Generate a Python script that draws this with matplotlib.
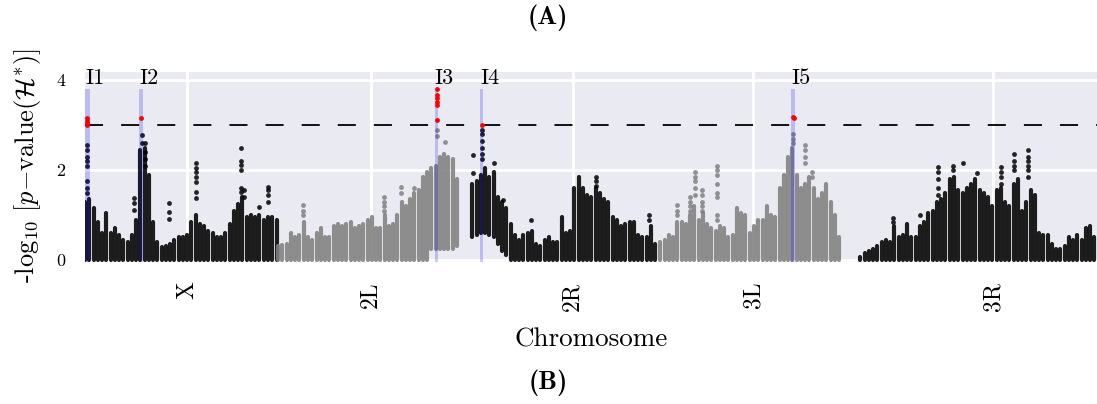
import matplotlib
matplotlib.use('Agg')
import matplotlib.pyplot as plt
import numpy as np

plt.rcParams['font.family'] = 'cmr10'
plt.rcParams['mathtext.fontset'] = 'cm'
plt.rcParams['axes.unicode_minus'] = False

# ---------------- data (positions in Mb, values = -log10 p) ----------------
chrom_names = ['X', '2L', '2R', '3L', '3R']
chrom_tick_pos = [12.0, 33.6, 57.3, 78.5, 106.7]
chrom_colors = ['#000000', '#808080', '#000000', '#808080', '#000000']
bin_width = 0.5
chrom_bin_start = [0.0, 22.7, 45.5, 67.6, 91.1]

# upper envelope of the dense point cloud, per 0.5 Mb bin
X_top = [1.3, 1.35, 1.15, 0.85, 0.6, 1.05, 0.6, 0.7, 0.55, 0.45, 0.4, 0.55, 0.9, 2.45, 2.5, 1.9,
         0.85, 0.4, 0.28, 0.3, 0.35, 0.45, 0.5, 0.5, 0.55, 0.85, 1.0, 0.8, 0.75, 0.65, 0.6, 0.5,
         0.5, 0.6, 0.8, 1.1, 1.25, 1.4, 0.95, 1.0, 0.95, 1.0, 0.9, 0.95, 0.95, 0.9]
L2_top = [0.3, 0.33, 0.35, 0.6, 0.5, 0.55, 0.85, 0.5, 0.45, 0.6, 0.7, 0.5, 0.5, 0.75, 0.8, 0.75,
          0.8, 0.85, 0.7, 0.75, 0.8, 0.9, 0.95, 0.7, 0.7, 1.0, 0.75, 0.8, 1.0, 1.3, 1.2, 1.35,
          1.5, 1.55, 1.85, 1.95, 2.05, 2.1, 2.3, 2.35, 2.3, 2.25, 1.8]
R2_top = [1.7, 1.75, 1.9, 2.05, 1.85, 1.95, 1.4, 1.3, 1.15, 0.8, 0.55, 0.45, 0.55, 0.6, 0.65, 0.35,
          0.3, 0.45, 0.5, 0.4, 0.4, 0.95, 0.6, 0.65, 1.6, 1.85, 1.6, 1.45, 1.4, 1.6, 1.5, 1.35,
          1.3, 0.95, 0.9, 0.75, 0.8, 0.85, 0.85, 0.55, 0.5, 0.5, 0.75, 0.35]
L3_top = [0.4, 0.45, 0.55, 0.5, 0.85, 0.85, 0.8, 1.0, 1.2, 0.9, 1.05, 0.8, 0.7, 0.65, 0.75, 0.7,
          0.5, 0.55, 1.15, 1.05, 1.0, 0.6, 0.75, 0.9, 0.9, 1.2, 1.0, 0.95, 1.6, 1.9, 2.3, 2.5,
          1.9, 1.6, 1.7, 1.85, 1.6, 1.35, 1.5, 1.7, 1.3, 1.0, 0.5]
R3_top = [0.07, 0.15, 0.2, 0.25, 0.3, 0.4, 0.45, 0.4, 0.75, 0.5, 0.55, 0.8, 0.5, 0.5, 0.75, 0.85,
          1.05, 1.1, 1.3, 1.35, 1.5, 1.8, 1.85, 1.55, 1.5, 1.6, 1.7, 1.8, 1.55, 1.5, 1.4, 1.2,
          1.55, 1.6, 1.3, 1.2, 1.7, 1.8, 1.1, 1.3, 1.55, 1.45, 0.6, 0.55, 0.55, 0.35, 0.25, 0.25,
          0.3, 0.5, 0.45, 0.55, 0.45, 0.7, 0.75, 0.5]

# lower envelope where the cloud does not reach zero (bin index -> value)
L2_low = {36: 0.25, 37: 0.25, 38: 0.25, 39: 0.25, 40: 0.25, 41: 0.25, 42: 0.3}
R2_low = {0: 0.5, 1: 0.55, 2: 0.6, 3: 0.6, 4: 0.55, 5: 0.5, 6: 0.35, 7: 0.2, 8: 0.1}

# sparse points standing above the cloud
X_dot_pos = [0.2] * 8 + [5.75] * 3 + [6.65] * 2 + [7.1] * 4 + [9.85] * 3 + [13.05] * 7 + \
            [18.3] * 6 + [18.7] * 2 + [20.45] + [21.5] * 4
X_dot_val = [2.55, 2.45, 2.3, 2.2, 2.1, 1.75, 1.6, 1.5, 1.37, 1.26, 1.11, 2.78, 2.6,
             2.6, 2.4, 2.25, 2.1, 1.26, 1.07, 0.91, 2.15, 2.05, 1.95, 1.85, 1.74, 1.52, 1.37,
             2.5, 2.2, 2.12, 2.0, 1.6, 1.52, 1.55, 1.4, 1.18, 1.63, 1.55, 1.45, 1.3]
L2_dot_pos = [25.6] * 3 + [35.1] * 4 + [37.1] * 2 + [38.6] + [41.3] * 2 + [42.3]
L2_dot_val = [1.22, 1.1, 1.0, 1.4, 1.3, 1.2, 1.1, 1.63, 1.5, 1.6, 2.89, 2.76, 2.63]
R2_dot_pos = [45.6] * 2 + [46.6] * 6 + [48.1] + [49.1] + [52.4] + [60.0] * 3 + [66.3] * 2
R2_dot_val = [2.33, 1.93, 2.9, 2.8, 2.65, 2.5, 2.35, 2.25, 2.15, 1.33, 0.89, 1.85, 1.75, 1.65,
              1.0, 0.9]
L3_dot_pos = [69.6] * 3 + [71.1] * 4 + [71.7] * 5 + [72.5] * 5 + [74.3] * 8 + [83.2] * 3 + \
             [84.6] * 4 + [85.4] * 2
L3_dot_val = [1.22, 1.1, 1.0, 1.4, 1.3, 1.2, 1.1, 1.96, 1.85, 1.75, 1.6, 1.45,
              1.55, 1.45, 1.3, 1.2, 1.1, 2.1, 2.0, 1.9, 1.7, 1.5, 1.4, 1.0, 0.9,
              2.81, 2.7, 2.6, 2.55, 2.45, 2.3, 2.15, 1.96, 1.85]
R3_dot_pos = [94.9] * 2 + [98.1] + [100.2] * 5 + [102.0] * 2 + [103.1] + [104.8] + [107.6] * 4 + \
             [109.2] * 4 + [110.8] * 6
R3_dot_val = [0.93, 0.85, 1.0, 2.07, 1.95, 1.8, 1.6, 1.45, 2.1, 2.0, 2.15, 1.93,
              2.07, 1.96, 1.85, 1.7, 2.35, 2.2, 2.1, 2.0, 2.44, 2.3, 2.2, 2.1, 2.0, 1.85]

# significant points (red)
sig_pos = [0.25, 0.25, 0.25, 0.25, 6.6, 41.3, 41.3, 41.3, 41.3, 41.3, 41.3, 46.6, 83.2, 83.25]
sig_val = [3.15, 3.1, 3.05, 3.0, 3.15, 3.8, 3.67, 3.6, 3.52, 3.44, 3.11, 3.0, 3.18, 3.15]

# candidate intervals
interval_names = ['I1', 'I2', 'I3', 'I4', 'I5']
interval_start = [0.0, 6.35, 41.1, 46.4, 83.0]
interval_end = [0.6, 6.8, 41.5, 46.8, 83.45]
interval_top = 3.8
threshold = 3.0

tops = [X_top, L2_top, R2_top, L3_top, R3_top]
lows = [{}, L2_low, R2_low, {}, {}]
dots = [(X_dot_pos, X_dot_val), (L2_dot_pos, L2_dot_val), (R2_dot_pos, R2_dot_val),
        (L3_dot_pos, L3_dot_val), (R3_dot_pos, R3_dot_val)]

# ---------------- figure ----------------
W, H = 1097, 404
fig = plt.figure(figsize=(W / 100, H / 100), dpi=100)
ax = fig.add_axes([85 / W, 142 / H, 1012 / W, 190 / H])
ax.set_facecolor('#EAEAF2')
for s in ax.spines.values():
    s.set_visible(False)
ax.grid(True, color='white', lw=2)
ax.set_axisbelow(True)

for i in range(5):
    top = np.array(tops[i])
    pos = chrom_bin_start[i] + bin_width * np.arange(len(top))
    low = np.array([lows[i].get(k, 0.0) for k in range(len(top))])
    ax.vlines(pos, low, top, colors=chrom_colors[i], linewidth=3.0, alpha=0.88,
              capstyle='round', zorder=2)
    dp, dv = dots[i]
    ax.scatter(dp, dv, s=12, color=chrom_colors[i], alpha=0.85, linewidths=0, zorder=3)

for n, a, b in zip(interval_names, interval_start, interval_end):
    ax.fill_between([a, b], -0.05, interval_top, color='#0000ff', alpha=0.2, lw=0, zorder=4)
    ax.text(a, 3.82, n, fontsize=16, ha='left', va='bottom', zorder=6)

ax.axhline(threshold, color='black', lw=1.3, dashes=(10, 10), zorder=5)
ax.scatter(sig_pos, sig_val, s=12, color='red', linewidths=0, zorder=6)

ax.set_xlim(0, 118.9)
ax.set_ylim(-0.045, 4.18)
ax.set_yticks([0, 2, 4])
ax.set_xticks(chrom_tick_pos)
ax.set_xticklabels(chrom_names, rotation=90, fontsize=17)
ax.tick_params(axis='y', labelsize=13, length=0, pad=14)
ax.tick_params(axis='x', length=0, pad=14)

fig.text(28 / W, 1 - 166 / H, r'-log$_{10}\ \left[p{-}\mathrm{value}(\mathcal{H}^{*})\right]$',
         rotation=90, ha='center', va='center', fontsize=19)
fig.text(591 / W, 1 - 340 / H, 'Chromosome', ha='center', va='center', fontsize=19.5)
fig.text(548 / W, 1 - 18 / H, '(A)', ha='center', va='center', fontsize=19, family='cmb10')
fig.text(548 / W, 1 - 383 / H, '(B)', ha='center', va='center', fontsize=19, family='cmb10')

fig.savefig('out.png', dpi=100)
